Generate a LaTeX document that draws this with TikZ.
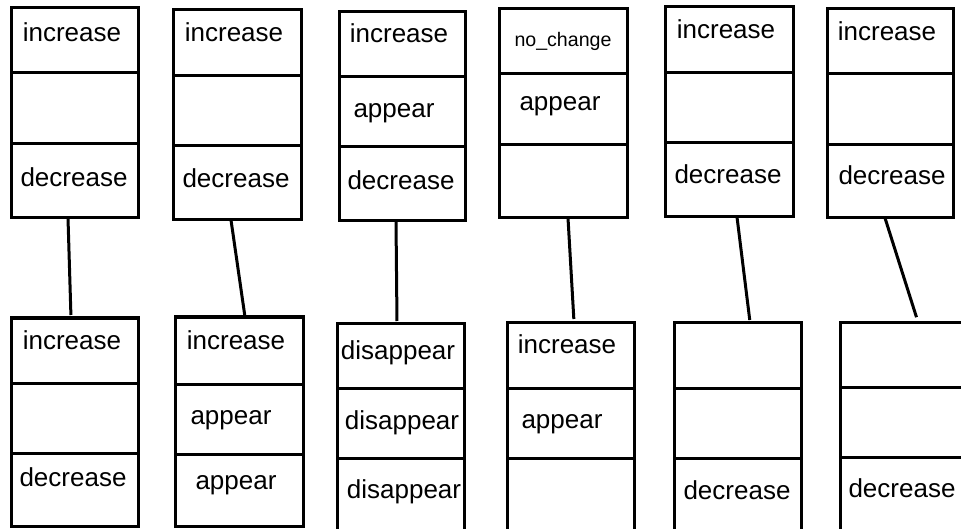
\documentclass[tikz,border=0pt]{standalone}
\usepackage{fontspec}
\setmainfont{Liberation Sans}
\begin{document}
\begin{tikzpicture}[x=1pt, y=-1pt,
	every node/.style = {font=\fontsize{26}{30}\selectfont, inner sep=0pt},
	stack/.style = {draw, line width=3pt, outer sep=0pt},
	small/.style = {font=\fontsize{19.6}{23}\selectfont},
	link/.style = {line width=3pt}]
	\clip (0,0) rectangle (961,529);
	% upper row
	\node[stack, minimum width=127pt, minimum height=210pt] (t1) at (74.5,113) {};
	\node[stack, minimum width=128pt, minimum height=210pt] (t2) at (237,115) {};
	\node[stack, minimum width=126pt, minimum height=209pt] (t3) at (402,116.5) {};
	\node[stack, minimum width=128pt, minimum height=209pt] (t4) at (563,113.5) {};
	\node[stack, minimum width=128pt, minimum height=210pt] (t5) at (729,112) {};
	\node[stack, minimum width=126pt, minimum height=209pt] (t6) at (890,113.5) {};
	% lower row
	\node[stack, minimum width=127pt, minimum height=208pt] (b1) at (74.5,422) {};
	\node[stack, minimum width=128pt, minimum height=209pt] (b2) at (239,421.5) {};
	\node[stack, minimum width=127pt, minimum height=222pt] (b3) at (400.5,434) {};
	\node[stack, minimum width=127pt, minimum height=223pt] (b4) at (570.5,433.5) {};
	\node[stack, minimum width=127pt, minimum height=223pt] (b5) at (737.5,433.5) {};
	\node[stack, minimum width=135pt, minimum height=223pt] (b6) at (907.5,433.5) {};
	% cell borders
	\foreach \n/\ya/\yb in {t1/73/144, t2/76/146, t3/77/147, t4/74/145, t5/73/143, t6/74/145,
		b1/383/453, b2/384/454, b3/388/458, b4/388/458, b5/388/458, b6/387/457} {
		\draw[link] (\n.west |- 0,\ya) -- (\n.east |- 0,\ya);
		\draw[link] (\n.west |- 0,\yb) -- (\n.east |- 0,\yb);
	}
	% labels
	\node (t1a) at (72,32) {increase};
	\node (t1c) at (74,177) {decrease};
	\node (t2a) at (234,32) {increase};
	\node (t2c) at (236,178) {decrease};
	\node (t3a) at (399,33) {increase};
	\node (t3b) at (394,113) {appear};
	\node (t3c) at (401,180) {decrease};
	\node[small] (t4a) at (563,41) {no\_change};
	\node (t4b) at (560,106) {appear};
	\node (t5a) at (726,29) {increase};
	\node (t5c) at (728,174) {decrease};
	\node (t6a) at (887,31) {increase};
	\node (t6c) at (892,175) {decrease};
	\node (b1a) at (72,340) {increase};
	\node (b1c) at (73,477) {decrease};
	\node (b2a) at (236,340) {increase};
	\node (b2b) at (231,420) {appear};
	\node (b2c) at (236,485) {appear};
	\node (b3a) at (398,353) {disappear};
	\node (b3b) at (402,423) {disappear};
	\node (b3c) at (404,492) {disappear};
	\node (b4a) at (567,344) {increase};
	\node (b4b) at (562,424) {appear};
	\node (b5c) at (737,490) {decrease};
	\node (b6c) at (902,488) {decrease};
	% links
	\draw[link, shorten >=3pt] ([xshift=-6.5pt]t1.south) -- ([xshift=-3.5pt]b1.north);
	\draw[link, shorten >=2pt] ([xshift=-6pt]t2.south) -- ([xshift=6pt]b2.north);
	\draw[link, shorten >=2pt] ([xshift=-6pt]t3.south) -- ([xshift=-3.5pt]b3.north);
	\draw[link, shorten >=3pt] ([xshift=5pt]t4.south) -- ([xshift=3.5pt]b4.north);
	\draw[link, shorten >=2pt] ([xshift=8pt]t5.south) -- ([xshift=12.5pt]b5.north);
	\draw[link, shorten >=5pt] ([xshift=-5pt]t6.south) -- ([xshift=10.5pt]b6.north);
\end{tikzpicture}
\end{document}
